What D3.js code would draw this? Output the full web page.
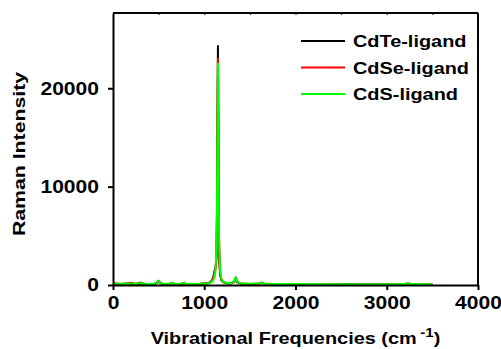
<!DOCTYPE html>
<html>
<head>
<meta charset="utf-8">
<script src="https://cdn.jsdelivr.net/npm/d3@7"></script>
<style>
  body { margin: 0; background: #fff; }
  text { font-family: "Liberation Sans", Arial, sans-serif; font-weight: bold; fill: #000; }
</style>
</head>
<body>
<div id="chart-area"></div>
<script>
// Raman spectra of the three ligand samples
const wavenumbers = [0, 100, 200, 250, 300, 350, 400, 450, 480, 500, 520, 560, 620, 650, 680, 750, 780, 800, 850, 950,
    1050, 1080, 1100, 1115, 1125, 1135, 1140, 1145, 1150, 1155, 1160, 1165, 1175, 1190, 1210, 1250, 1300, 1330, 1345, 1360,
    1400, 1500, 1600, 1630, 1660, 1800, 2000, 2500, 3000, 3200, 3230, 3260, 3500];

const cdteValues = [120, 100, 130, 90, 160, 100, 90, 100, 200, 380, 180, 90, 100, 200, 90, 100, 200, 100, 90, 110,
    200, 400, 800, 1500, 1800, 3000, 8000, 17000, 24300, 15000, 6000, 2500, 1000, 450, 280, 180, 180, 350, 700, 300,
    130, 100, 130, 220, 110, 90, 80, 70, 70, 80, 170, 80, 70];

const cdseValues = [140, 110, 220, 100, 250, 110, 100, 110, 220, 400, 190, 100, 110, 220, 100, 110, 220, 110, 100, 120,
    190, 380, 750, 1400, 1700, 3200, 7800, 16500, 23000, 15500, 6500, 2700, 1100, 480, 290, 190, 190, 380, 750, 320,
    140, 110, 140, 230, 120, 95, 85, 75, 75, 85, 180, 85, 75];

const cdsValues = [150, 120, 150, 100, 200, 120, 100, 120, 250, 450, 200, 100, 120, 250, 100, 120, 250, 120, 100, 120,
    180, 300, 500, 900, 1700, 4000, 8500, 16000, 22500, 17000, 8000, 3500, 1400, 550, 300, 200, 200, 400, 800, 350,
    150, 120, 150, 250, 130, 100, 90, 80, 80, 90, 200, 90, 80];

const seriesNames = ["CdTe-ligand", "CdSe-ligand", "CdS-ligand"];
const seriesColors = ["#000000", "#ff0000", "#00ff00"];
const xTicks = [0, 1000, 2000, 3000, 4000];
const xMinorTicks = [500, 1000, 1500, 2000, 2500, 3000, 3500];
const yTicks = [0, 10000, 20000];

const width = 501;
const height = 349;
const stretch = 1.17;   // the original lettering is wider than Arial

const svg = d3.select("#chart-area")
    .append("svg")
    .attr("width", width)
    .attr("height", height);

const x = d3.scaleLinear().domain([0, 4000]).range([113, 478]);
const y = d3.scaleLinear().domain([0, 27650]).range([285, 13]);

// data lines
const allValues = [cdteValues, cdseValues, cdsValues];
const line = d3.line()
    .x(d => x(d[0]))
    .y(d => y(d[1]));

allValues.forEach((vals, i) => {
    const pts = wavenumbers.map((w, j) => [w, vals[j]]);
    svg.append("path")
        .datum(pts)
        .attr("fill", "none")
        .attr("stroke", seriesColors[i])
        .attr("stroke-width", 2)
        .attr("stroke-linejoin", "round")
        .attr("d", line);
});

// frame: top and right
svg.append("line")
    .attr("x1", x(0)).attr("x2", x(4000))
    .attr("y1", y.range()[1]).attr("y2", y.range()[1])
    .attr("stroke", "#000").attr("stroke-width", 2);
svg.append("line")
    .attr("x1", x(4000)).attr("x2", x(4000))
    .attr("y1", y.range()[1]).attr("y2", y(0))
    .attr("stroke", "#000").attr("stroke-width", 2);

// small inward ticks on the top edge
svg.append("g")
    .attr("transform", `translate(0,${y.range()[1]})`)
    .call(d3.axisTop(x).tickValues(xMinorTicks).tickSize(-2).tickFormat(""))
    .call(g => g.select(".domain").remove())
    .call(g => g.selectAll("line").attr("stroke-width", 1));

// bottom axis
const xAxis = svg.append("g")
    .attr("transform", `translate(0,${y(0)})`)
    .call(d3.axisBottom(x).tickValues(xTicks).tickFormat(d3.format("d"))
        .tickSize(5).tickSizeOuter(0).tickPadding(6));
xAxis.select(".domain").attr("stroke-width", 2);
xAxis.selectAll("line").attr("stroke-width", 2);
xAxis.selectAll("text")
    .attr("font-size", 18)
    .attr("fill", "#000")
    .attr("transform", `scale(${stretch},1)`);

// left axis
const yAxis = svg.append("g")
    .attr("transform", `translate(${x(0)},0)`)
    .call(d3.axisLeft(y).tickValues(yTicks).tickFormat(d3.format("d"))
        .tickSize(5).tickSizeOuter(0).tickPadding(7));
yAxis.select(".domain").attr("stroke-width", 2);
yAxis.selectAll("line").attr("stroke-width", 2);
yAxis.selectAll("text")
    .attr("font-size", 18)
    .attr("fill", "#000")
    .attr("transform", `scale(${stretch},1)`);

// axis titles
const xTitle = svg.append("text")
    .attr("transform", `translate(${(x(0) + x(4000)) / 2},344) scale(${stretch},1)`)
    .attr("text-anchor", "middle")
    .attr("font-size", 17);
xTitle.append("tspan").text("Vibrational Frequencies (cm");
xTitle.append("tspan").attr("dx", 3).attr("dy", -7).attr("font-size", 13).text("-1");
xTitle.append("tspan").attr("dy", 7).text(")");

svg.append("text")
    .attr("transform", `translate(25,${(y(0) + y.range()[1]) / 2 + 5}) rotate(-90) scale(1.25,1)`)
    .attr("text-anchor", "middle")
    .attr("font-size", 17)
    .text("Raman Intensity");

// legend
const legend = svg.append("g");
seriesNames.forEach((name, i) => {
    const ly = 41 + i * 26.5;
    legend.append("line")
        .attr("x1", 301).attr("x2", 345)
        .attr("y1", ly).attr("y2", ly)
        .attr("stroke", seriesColors[i])
        .attr("stroke-width", 2);
    legend.append("text")
        .attr("transform", `translate(353,${ly + 6}) scale(${stretch},1)`)
        .attr("font-size", 17)
        .text(name);
});
</script>
</body>
</html>
